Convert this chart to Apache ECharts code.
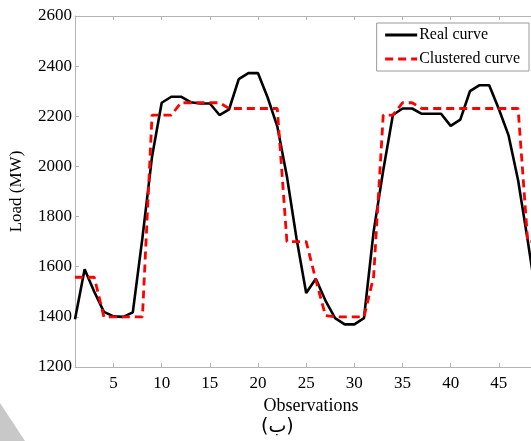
<!DOCTYPE html>
<html>
<head>
<meta charset="utf-8">
<script src="https://cdn.jsdelivr.net/npm/echarts@6/dist/echarts.min.js"></script>
<style>
  html, body { margin: 0; padding: 0; background: #fff; overflow: hidden; }
  /* wider than the window: the plot runs past the right edge, as in the reference */
  #chart { width: 547px; height: 441px; }
</style>
</head>
<body>
<div id="chart"></div>
<script>
// observations 1..49
const observations = [1,2,3,4,5,6,7,8,9,10,11,12,13,14,15,16,17,18,19,20,21,22,23,24,25,26,27,28,29,30,31,32,33,34,35,36,37,38,39,40,41,42,43,44,45,46,47,48,49]
const realCurve = [1390,1590,1500,1420,1402,1400,1418,1715,2040,2254,2278,2278,2256,2251,2251,2205,2228,2348,2372,2372,2275,2160,1960,1712,1495,1552,1465,1395,1370,1370,1395,1740,1985,2205,2231,2231,2210,2210,2210,2162,2187,2300,2324,2324,2229,2125,1945,1704,1450]
const clusteredCurve = [1558,1558,1558,1400,1400,1400,1400,1400,2205,2205,2205,2254,2254,2254,2254,2254,2231,2231,2231,2231,2231,2231,1700,1700,1700,1548,1405,1400,1400,1400,1400,1560,2205,2205,2254,2254,2231,2231,2231,2231,2231,2231,2231,2231,2231,2231,2231,1700,1700]
const xTicks = [5,10,15,20,25,30,35,40,45]

const serif = 'Liberation Serif'
const axisGray = '#b4b4b4'

const chart = echarts.init(document.getElementById('chart'), null, { renderer: 'canvas' })

const pairs = (ys) => observations.map((x, i) => [x, ys[i]])

const option = {
  animation: false,
  backgroundColor: '#fff',
  grid: { left: 73, top: 16, right: 0, bottom: 74, containLabel: false },
  legend: {
    orient: 'vertical',
    right: 18,
    top: 23,
    padding: [4, 9, 4, 7],
    itemWidth: 32,
    itemHeight: 14,
    itemGap: 8,
    backgroundColor: '#fff',
    borderColor: '#9a9a9a',
    borderWidth: 1,
    borderRadius: 0,
    itemStyle: { opacity: 0 },
    lineStyle: { width: 3 },
    textStyle: { fontFamily: serif, fontSize: 16, color: '#000', padding: [0, 0, 0, -3] },
    data: ['Real curve', 'Clustered curve']
  },
  xAxis: [{
    type: 'value',
    min: 1,
    max: 50,
    name: 'Observations',
    nameLocation: 'middle',
    nameGap: 25,
    nameTextStyle: { fontFamily: serif, fontSize: 18, color: '#000' },
    axisLine: { show: true, lineStyle: { color: axisGray, width: 1 } },
    axisTick: { show: true, inside: true, length: 4, customValues: xTicks, lineStyle: { color: axisGray } },
    axisLabel: { customValues: xTicks, fontFamily: serif, fontSize: 17, color: '#000', margin: 8 },
    splitLine: { show: false }
  }, {
    type: 'value',
    position: 'top',
    min: 1,
    max: 50,
    axisLine: { show: true, onZero: false, lineStyle: { color: axisGray, width: 1 } },
    axisTick: { show: true, inside: true, length: 4, customValues: xTicks, lineStyle: { color: axisGray } },
    axisLabel: { show: false },
    splitLine: { show: false }
  }],
  yAxis: {
    type: 'value',
    min: 1200,
    max: 2600,
    interval: 200,
    name: 'Load (MW)',
    nameLocation: 'middle',
    nameGap: 50,
    nameTextStyle: { fontFamily: serif, fontSize: 17, color: '#000' },
    axisLine: { show: true, lineStyle: { color: axisGray, width: 1 } },
    axisTick: { show: true, inside: true, length: 4, lineStyle: { color: axisGray } },
    axisLabel: { fontFamily: serif, fontSize: 17, color: '#000', margin: 3, formatter: (v) => String(v) },
    splitLine: { show: false }
  },
  series: [{
    name: 'Real curve',
    type: 'line',
    data: pairs(realCurve),
    symbol: 'none',
    lineStyle: { color: '#000', width: 2.6 },
    itemStyle: { color: '#000' },
    z: 2
  }, {
    name: 'Clustered curve',
    type: 'line',
    data: pairs(clusteredCurve),
    symbol: 'none',
    lineStyle: { color: '#ff0000', width: 2.8, type: [8, 5] },
    itemStyle: { color: '#ff0000' },
    z: 3
  }],
  graphic: [{
    type: 'polygon',
    shape: { points: [[0, 403], [25, 441], [0, 441]] },
    style: { fill: '#c8c8c8' },
    silent: true
  }, {
    type: 'text',
    left: 261,
    top: 418,
    style: { text: '(ب)', font: '19px "DejaVu Sans"', fill: '#000' }
  }]
}

chart.setOption(option)
</script>
</body>
</html>
